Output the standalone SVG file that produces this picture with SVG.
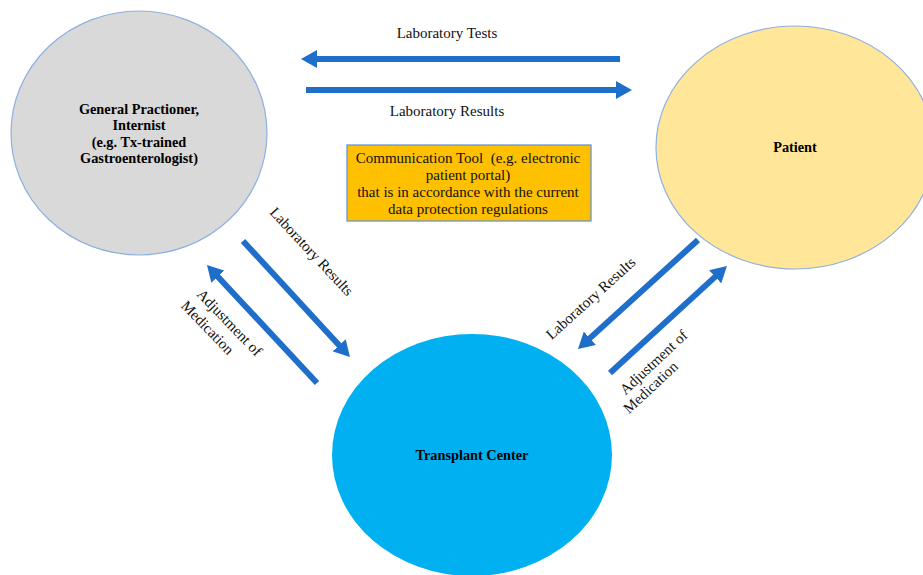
<svg xmlns="http://www.w3.org/2000/svg" width="923" height="575" viewBox="0 0 923 575">
<style>
.node{stroke:#8fb0e0;stroke-width:1.2}
.nt{font-family:"Liberation Serif",serif;font-weight:bold;font-size:14.3px;fill:#000;text-anchor:middle}
.lbl{font-family:"Liberation Serif",serif;font-size:15px;fill:#111;text-anchor:middle}
.arr{stroke:#1f6fca;stroke-width:6;fill:none}
</style>
<defs>
<marker id="ah" markerUnits="userSpaceOnUse" viewBox="0 0 16 18" markerWidth="16" markerHeight="18" refX="1" refY="9" orient="auto">
<path d="M0,0 L16,9 L0,18 z" fill="#1f6fca"/>
</marker>
</defs>
<rect width="923" height="575" fill="#fff"/>
<g id="gp">
<ellipse class="node" cx="139" cy="133" rx="128" ry="122" fill="#d9d9d9"/>
<text class="nt" x="139" y="114">General Practioner,</text>
<text class="nt" x="139" y="130">Internist</text>
<text class="nt" x="139" y="147">(e.g. Tx-trained</text>
<text class="nt" x="139" y="163">Gastroenterologist)</text>
</g>
<g id="patient">
<ellipse class="node" cx="795" cy="147.5" rx="139" ry="121.5" fill="#ffe699"/>
<text class="nt" x="795" y="152">Patient</text>
</g>
<g id="tc">
<ellipse cx="472" cy="455" rx="140" ry="121" fill="#00b0f0"/>
<text class="nt" x="472" y="460">Transplant Center</text>
</g>
<g id="tool">
<rect x="347" y="145" width="244" height="76" fill="#ffc000" stroke="#5b8fd6" stroke-width="1.2"/>
<text class="lbl" x="468" y="163">Communication Tool&#160; (e.g. electronic</text>
<text class="lbl" x="468" y="180">patient portal)</text>
<text class="lbl" x="468" y="197">that is in accordance with the current</text>
<text class="lbl" x="468" y="214">data protection regulations</text>
</g>
<g id="connectors">
<line class="arr" x1="620" y1="59" x2="316" y2="59" marker-end="url(#ah)"/>
<line class="arr" x1="306" y1="90" x2="617" y2="90" marker-end="url(#ah)"/>
<line class="arr" x1="243" y1="241" x2="339.8" y2="346" marker-end="url(#ah)"/>
<line class="arr" x1="317" y1="383" x2="217.2" y2="276" marker-end="url(#ah)"/>
<line class="arr" x1="698" y1="240" x2="589.1" y2="338.9" marker-end="url(#ah)"/>
<line class="arr" x1="610" y1="373" x2="715.9" y2="276.1" marker-end="url(#ah)"/>
<text class="lbl" x="447" y="38">Laboratory Tests</text>
<text class="lbl" x="447" y="116">Laboratory Results</text>
<text class="lbl" transform="translate(308,255) rotate(47)">Laboratory Results</text>
<text class="lbl" transform="translate(226,326) rotate(46)">Adjustment of</text>
<text class="lbl" transform="translate(204,331) rotate(46)">Medication</text>
<text class="lbl" transform="translate(594,302) rotate(-42)">Laboratory Results</text>
<text class="lbl" transform="translate(657,366) rotate(-43)">Adjustment of</text>
<text class="lbl" transform="translate(654,391) rotate(-43)">Medication</text>
</g>
</svg>
